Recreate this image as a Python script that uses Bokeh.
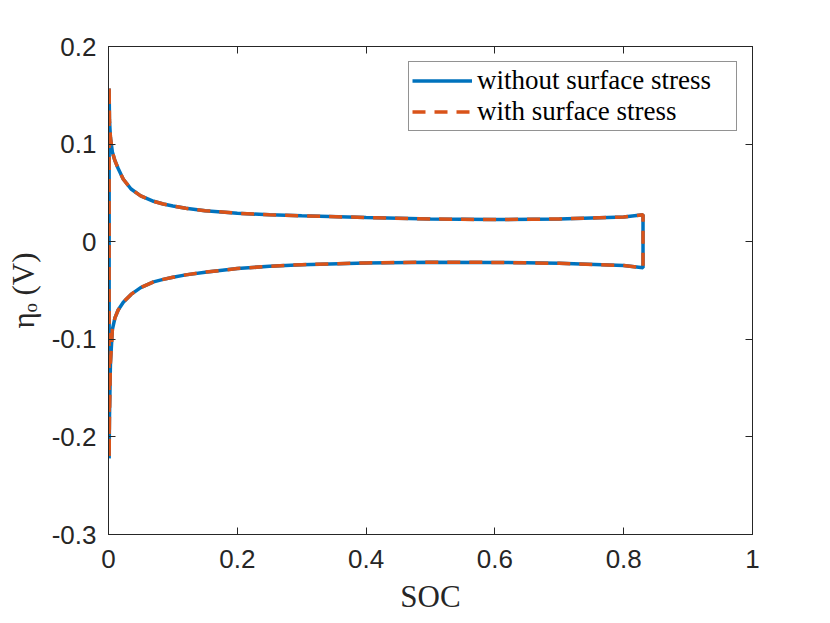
from bokeh.plotting import figure
from bokeh.models import LinearAxis, FixedTicker, Legend, LegendItem, ColumnDataSource, CustomLabelingPolicy
from bokeh.embed import file_html
from bokeh.resources import INLINE

# ---- data ----
soc_upper = [0.0010, 0.0015, 0.003, 0.006, 0.010, 0.015, 0.023, 0.035, 0.050, 0.070, 0.085,
             0.100, 0.120, 0.150, 0.200, 0.250, 0.300, 0.400, 0.500, 0.600, 0.700, 0.800, 0.830]
eta_upper = [0.157, 0.125, 0.107, 0.092, 0.083, 0.075, 0.064, 0.054, 0.047, 0.0414, 0.0386,
             0.0366, 0.0342, 0.0318, 0.0292, 0.0275, 0.0265, 0.0248, 0.0232, 0.0227, 0.0233, 0.0253, 0.0276]
soc_lower = [0.830, 0.800, 0.700, 0.600, 0.500, 0.400, 0.300, 0.250, 0.200, 0.150, 0.120, 0.100,
             0.085, 0.070, 0.050, 0.035, 0.023, 0.015, 0.010, 0.006, 0.003, 0.0015, 0.0010]
eta_lower = [-0.0267, -0.0245, -0.0222, -0.0212, -0.0210, -0.0217, -0.0235, -0.0252, -0.0275, -0.0312, -0.0340, -0.0365,
             -0.0386, -0.0412, -0.047, -0.054, -0.062, -0.070, -0.078, -0.090, -0.125, -0.180, -0.222]

x_tick_values = [0, 0.2, 0.4, 0.6, 0.8, 1.0]
x_tick_labels = ["0", "0.2", "0.4", "0.6", "0.8", "1"]
y_tick_values = [-0.3, -0.2, -0.1, 0, 0.1, 0.2]
y_tick_labels = ["-0.3", "-0.2", "-0.1", "0", "0.1", "0.2"]

series_names = ["without surface stress", "with surface stress"]
series_colors = ["#0072BD", "#D95319"]

# closed loop: upper branch, lower branch, back to start
loop_x = soc_upper + soc_lower + soc_upper[:1]
loop_y = eta_upper + eta_lower + eta_upper[:1]
src = ColumnDataSource(dict(x=loop_x, y=loop_y))

AX = "#262626"

p = figure(width=826, height=623, x_range=(0, 1), y_range=(-0.3, 0.2),
           output_backend="svg", toolbar_location=None,
           min_border_left=108, min_border_right=74, min_border_top=46, min_border_bottom=89,
           background_fill_color="white", border_fill_color="white")
p.xgrid.visible = False
p.ygrid.visible = False
p.outline_line_color = AX
p.outline_line_width = 1

r1 = p.line("x", "y", source=src, line_color=series_colors[0], line_width=3.5)
r2 = p.line("x", "y", source=src, line_color=series_colors[1], line_width=3.5, line_dash="13 9")

def style_axis(ax):
    ax.axis_line_color = AX
    ax.major_tick_line_color = AX
    ax.major_tick_in = 7
    ax.major_tick_out = 0
    ax.minor_tick_line_color = None
    ax.major_label_text_color = AX
    ax.major_label_text_font = "Liberation Sans"
    ax.major_label_text_font_size = "26px"

p.xaxis.ticker = FixedTicker(ticks=x_tick_values)
p.yaxis.ticker = FixedTicker(ticks=y_tick_values)
p.xaxis.major_label_overrides = dict(zip(x_tick_values, x_tick_labels))
p.yaxis.major_label_overrides = dict(zip(y_tick_values, y_tick_labels))
style_axis(p.xaxis[0])
style_axis(p.yaxis[0])
p.xaxis.major_label_standoff = 15
p.yaxis.major_label_standoff = 12

p.xaxis.axis_label = "SOC"
p.yaxis.axis_label = "ηₒ (V)"
for ax in (p.xaxis[0], p.yaxis[0]):
    ax.axis_label_text_font = "Liberation Serif"
    ax.axis_label_text_font_size = "31px"
    ax.axis_label_text_font_style = "normal"
    ax.axis_label_text_color = AX
p.xaxis.axis_label_standoff = 8
p.yaxis.axis_label_standoff = 8

hide_all = CustomLabelingPolicy(code="for (const i of Array.from(indices)) { indices.set(i, false) } return indices")
for loc, tv in (("right", y_tick_values), ("above", x_tick_values)):
    ax = LinearAxis(ticker=FixedTicker(ticks=tv))
    ax.axis_line_color = AX
    ax.major_tick_line_color = AX
    ax.major_tick_in = 7
    ax.major_tick_out = 0
    ax.minor_tick_line_color = None
    ax.major_label_policy = hide_all
    ax.major_label_standoff = 0
    p.add_layout(ax, loc)

legend = Legend(items=[LegendItem(label=series_names[0], renderers=[r1]),
                       LegendItem(label=series_names[1], renderers=[r2])],
                location="top_right")
legend.margin = 15
legend.padding = 3
legend.spacing = 0
legend.glyph_width = 60
legend.glyph_height = 31
legend.label_height = 31
legend.label_width = 256
legend.label_standoff = 5
legend.label_text_font = "Liberation Serif"
legend.label_text_font_size = "27px"
legend.label_text_color = "black"
legend.border_line_color = AX
legend.border_line_width = 1
legend.background_fill_color = "white"
legend.background_fill_alpha = 1
p.add_layout(legend)

open("out.html", "w").write(file_html(p, INLINE))
